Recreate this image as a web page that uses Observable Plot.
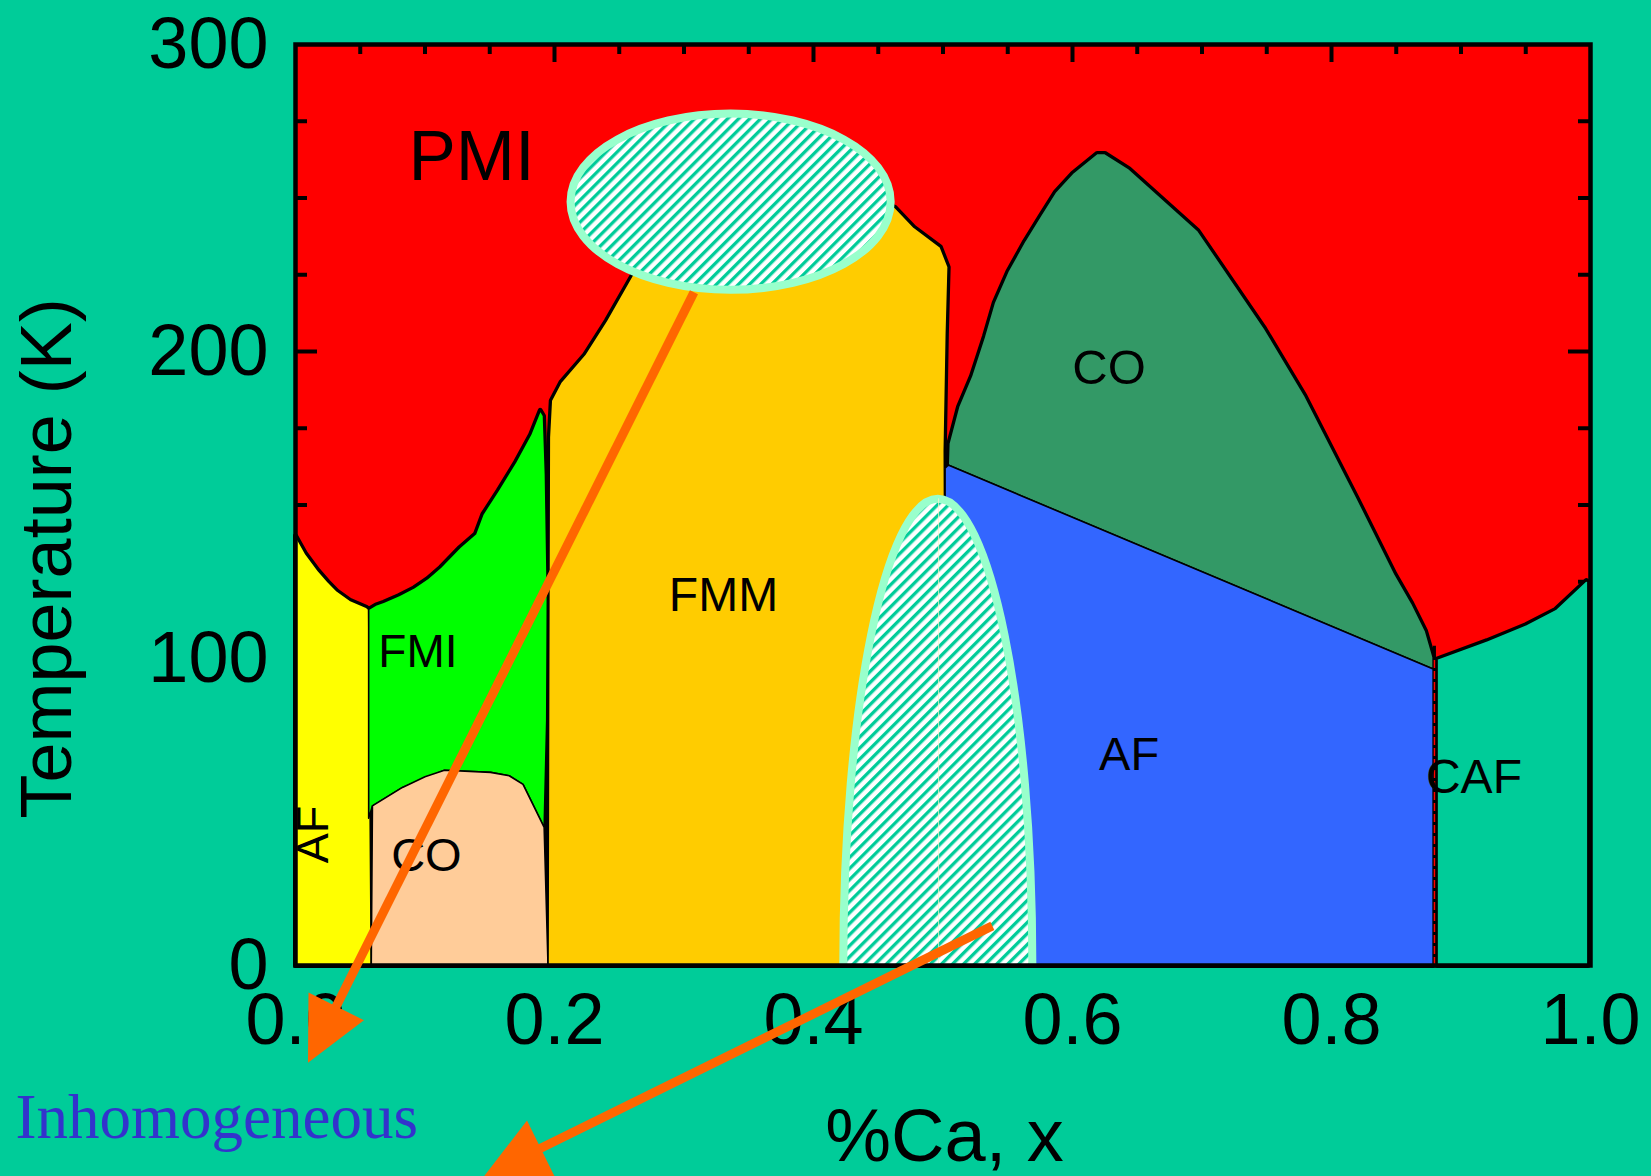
<!DOCTYPE html>
<html><head><meta charset="utf-8">
<script src="https://cdn.jsdelivr.net/npm/d3@7"></script>
<script src="https://cdn.jsdelivr.net/npm/@observablehq/plot@0.6"></script>
<style>html,body{margin:0;padding:0;background:#00CC99;} svg{display:block}</style>
</head><body><div id="chart"></div>
<script>
// ---- axis ticks ----
const xTicks = [0, 0.2, 0.4, 0.6, 0.8, 1.0];
const yTicks = [0, 100, 200, 300];
const xMinor = [0.05,0.1,0.15,0.25,0.3,0.35,0.45,0.5,0.55,0.65,0.7,0.75,0.85,0.9,0.95];
const xMajor = [0.2,0.4,0.6,0.8];
const yMinor = [25,50,75,125,150,175,225,250,275];
const yMajor = [100,200];

// ---- phase regions: [x (Ca fraction), T (K)] ----
const regionAF = [[0,140],[0.008,134],[0.0176,128.6],[0.025,125],[0.032,122],[0.042,119],[0.0546,116.7],[0.0565,116],[0.0585,0],[0,0]];
const regionFMI = [[0.0565,116],[0.062,117.4],[0.068,118.3],[0.08,120.5],[0.0915,123],[0.102,126],[0.112,129.7],[0.127,136.2],[0.139,140.6],[0.1447,147],[0.1565,154.7],[0.17,164],[0.1816,173],[0.189,180.8],[0.1915,179],[0.193,160],[0.1945,120],[0.194,80],[0.192,45],[0.1757,59],[0.165,61.8],[0.1506,62.9],[0.115,63.6],[0.0826,58],[0.0594,52],[0.0565,48]];
const regionCOlow = [[0.0585,0],[0.0594,52],[0.0826,58],[0.1,61.5],[0.115,63.6],[0.1506,62.9],[0.165,61.8],[0.1757,59],[0.192,45],[0.195,0]];
const regionFMM = [[0.195,0],[0.1955,100],[0.196,172],[0.1975,184],[0.205,190],[0.2234,199],[0.24,210],[0.26,224.8],[0.275,236],[0.30,250],[0.34,257],[0.42,254],[0.4628,247],[0.4775,240.5],[0.498,234],[0.504,227.5],[0.5026,205.8],[0.501,167.7],[0.5016,100],[0.502,0]];
const regionCOhigh = [[0.504,163],[0.5045,170],[0.512,182],[0.522,192],[0.532,205],[0.5396,216],[0.55,226],[0.5632,236],[0.575,244],[0.5869,252],[0.60,258],[0.619,264.5],[0.625,264.5],[0.6437,259.5],[0.6968,239.4],[0.7485,207.4],[0.7796,185.5],[0.8195,152.5],[0.849,127.5],[0.862,118],[0.8726,109],[0.8785,100.4],[0.8785,96.6]];
const regionAFhigh = [[0.5016,0],[0.5016,162],[0.504,163],[0.8785,96.6],[0.8785,0]];
const regionCAF = [[0.8815,0],[0.8815,99.8],[0.92,105.8],[0.95,111],[0.973,116],[0.9968,125.4],[0.998,125],[0.998,0]];

// ---- inhomogeneous (hatched) zones: centre and semi-axes (x units, K) ----
const zoneTop = {x: 0.336, T: 248.8, rx: 0.1236, ry: 28.7};
const zoneMid = {x: 0.496, T: 0, rx: 0.073, ry: 152};

// ---- arrows: start and tip (x, T) ----
const arrows = [
  {x1: 0.3077, T1: 219.3, x2: 0.00965, T2: -31.65},
  {x1: 0.5381, T1: 12.9, x2: 0.1457, T2: -68.6}
];

// ---- region labels ----
const labels = [
  {text: "PMI", x: 0.1359, T: 263.2, size: 71},
  {text: "CO", x: 0.6282, T: 194.4, size: 49},
  {text: "FMM", x: 0.3305, T: 120.6, size: 48},
  {text: "FMI", x: 0.0945, T: 102, size: 46},
  {text: "CO", x: 0.1011, T: 35.6, size: 47},
  {text: "AF", x: 0.6437, T: 68.7, size: 47},
  {text: "CAF", x: 0.910, T: 61.1, size: 48}
];
const labelAFrot = {text: "AF", x: 0.0139, T: 42.7, size: 45};

// ---- layout ----
const W = 1651, H = 1176, ml = 295, mr = 61, mt = 44, mb = 211;
const innerW = W - ml - mr, innerH = H - mt - mb;
const sx = x => ml + x * innerW;
const sy = T => mt + (1 - T / 300) * innerH;

function ellipseSymbol(rx, ry) {
  const k = 0.5523;
  return {draw(c) {
    c.moveTo(rx, 0);
    c.bezierCurveTo(rx, k*ry, k*rx, ry, 0, ry);
    c.bezierCurveTo(-k*rx, ry, -rx, k*ry, -rx, 0);
    c.bezierCurveTo(-rx, -k*ry, -k*rx, -ry, 0, -ry);
    c.bezierCurveTo(k*rx, -ry, rx, -k*ry, rx, 0);
    c.closePath();
  }};
}
function headSymbol(ux, uy, len, half) {
  const nx = -uy, ny = ux;
  return {draw(c) {
    c.moveTo(0, 0);
    c.lineTo(-len*ux + half*nx, -len*uy + half*ny);
    c.lineTo(-len*ux - half*nx, -len*uy - half*ny);
    c.closePath();
  }};
}
const headLen = 63, headHalf = 31;
const arrowData = arrows.map(a => {
  const dx = sx(a.x2) - sx(a.x1), dy = sy(a.T2) - sy(a.T1);
  const L = Math.hypot(dx, dy);
  const f = (headLen - 8) / L;
  return {...a, ux: dx / L, uy: dy / L, xb: a.x2 + (a.x1 - a.x2) * f, Tb: a.T2 + (a.T1 - a.T2) * f};
});

const regions = [
  [regionAF, "#FFFF00"], [regionFMI, "#00FF00"], [regionCOlow, "#FFCC99"], [regionFMM, "#FFCC00"],
  [regionCOhigh, "#339966"], [regionAFhigh, "#3366FF"], [regionCAF, "#00CC99"]
];
// pass 1: thick black outline (survives only where a region meets the red PMI field)
const outlineMarks = regions.map(([data, fill]) => Plot.line(data, {x: d => d[0], y: d => d[1], fill, stroke: "black", strokeWidth: 5, strokeLinejoin: "round", curve: "linear-closed"}));
// pass 2: fills with thin boundaries
const fillMarks = regions.map(([data, fill]) => Plot.line(data, {x: d => d[0], y: d => d[1], fill, stroke: "black", strokeWidth: 1.6, strokeLinejoin: "round", curve: "linear-closed"}));

const zoneMark = (z, opts) => Plot.dot([z], {x: "x", y: "T", r: 10,
  symbol: ellipseSymbol(z.rx * innerW, z.ry / 300 * innerH),
  fill: "url(#hatch)", stroke: "#99FFCC", strokeWidth: 8, ...opts});

const svg = Plot.plot({
  width: W, height: H,
  marginLeft: ml, marginRight: mr, marginTop: mt, marginBottom: mb,
  x: {domain: [0, 1], ticks: xTicks, tickFormat: d3.format(".1f"), tickSize: 0, tickPadding: 27, label: null},
  y: {domain: [0, 300], ticks: yTicks, tickSize: 0, tickPadding: 27, label: null},
  style: {background: "#00CC99", fontFamily: "'Liberation Sans', Arial, sans-serif", fontSize: "72px", color: "black", overflow: "visible"},
  marks: [
    Plot.frame({fill: "#FF0000", stroke: "none"}),
    Plot.tickX(xMinor, {x: d => d, insetBottom: innerH - 10, stroke: "black", strokeWidth: 4}),
    Plot.tickX(xMajor, {x: d => d, insetBottom: innerH - 18, stroke: "black", strokeWidth: 4}),
    Plot.tickY(yMinor, {y: d => d, insetRight: innerW - 12, stroke: "black", strokeWidth: 4}),
    Plot.tickY(yMajor, {y: d => d, insetRight: innerW - 22, stroke: "black", strokeWidth: 4}),
    Plot.tickY(yMinor, {y: d => d, insetLeft: innerW - 12, stroke: "black", strokeWidth: 4}),
    Plot.tickY(yMajor, {y: d => d, insetLeft: innerW - 22, stroke: "black", strokeWidth: 4}),
    ...outlineMarks,
    ...fillMarks,
    Plot.ruleX([0.8795], {y1: 0, y2: 104, stroke: "black", strokeWidth: 3}),
    Plot.ruleX([0.8795], {y1: 0, y2: 100, stroke: "#FF0000", strokeWidth: 1.5, strokeDasharray: "8,3"}),
    zoneMark(zoneMid, {clip: true}),
    Plot.ruleX([0.4966], {y1: 0, y2: 152, stroke: "#FFF3C8", strokeWidth: 1, strokeOpacity: 0.8, clip: true}),
    zoneMark(zoneTop, {}),
    ...labels.map(l => Plot.text([l], {x: "x", y: "T", text: "text", fontSize: l.size, fill: "black"})),
    Plot.text([labelAFrot], {x: "x", y: "T", text: "text", fontSize: labelAFrot.size, rotate: -90, fill: "black"}),
    Plot.text(["Temperature (K)"], {x: -0.1915, y: 132.6, text: d => d, rotate: -90, fontSize: 72, fill: "black"}),
    Plot.text(["%Ca, x"], {x: 0.5012, y: -55.9, text: d => d, fontSize: 74, fill: "black"}),
    Plot.text(["Inhomogeneous"], {x: -0.2162, y: -49.5, text: d => d, textAnchor: "start", fontSize: 63, fill: "#3333CC", fontFamily: "'Liberation Serif', 'Times New Roman', serif"}),
    Plot.frame({stroke: "black", strokeWidth: 4.5}),
    Plot.link(arrowData, {x1: "x1", y1: "T1", x2: "xb", y2: "Tb", stroke: "#FF6600", strokeWidth: 9}),
    ...arrowData.map(a => Plot.dot([a], {x: "x2", y: "T2", r: 10, symbol: headSymbol(a.ux, a.uy, headLen, headHalf), fill: "#FF6600", stroke: "none"}))
  ]
});

const defs = d3.select(svg).insert("defs", ":first-child");
const pat = defs.append("pattern").attr("id", "hatch").attr("patternUnits", "userSpaceOnUse")
  .attr("width", 7.8).attr("height", 7.8).attr("patternTransform", "rotate(45)");
pat.append("rect").attr("width", 7.8).attr("height", 7.8).attr("fill", "white");
pat.append("rect").attr("width", 3.3).attr("height", 7.8).attr("fill", "#00CC99");

document.getElementById("chart").append(svg);
</script></body></html>
